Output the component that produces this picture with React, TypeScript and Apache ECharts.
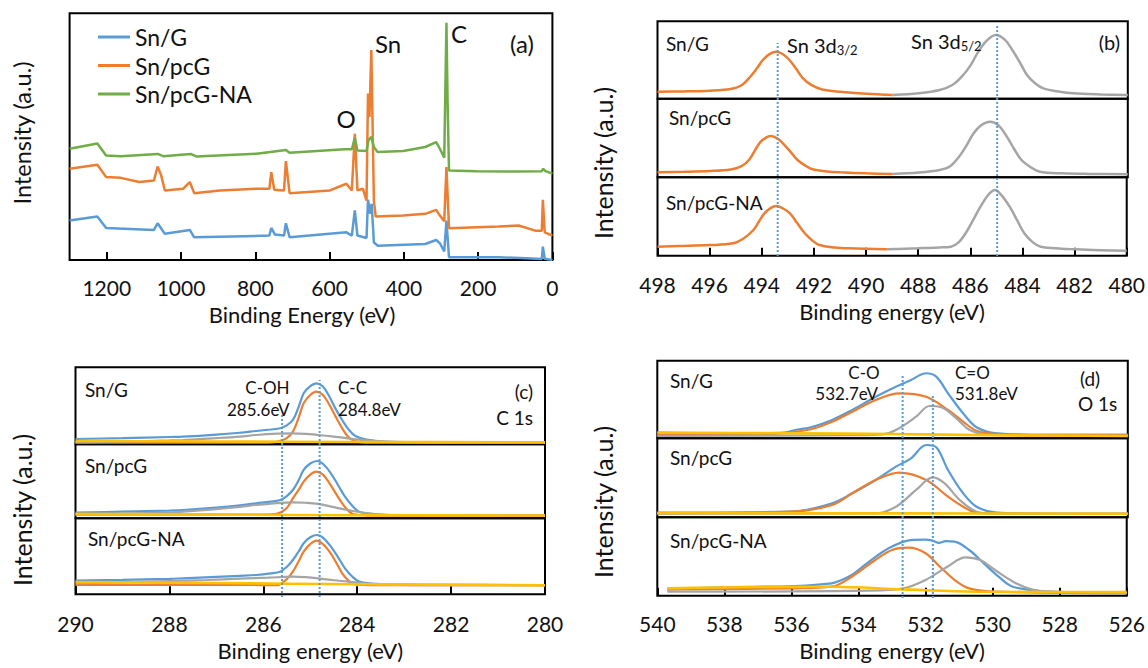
import React, { useEffect, useRef } from 'react';
import * as echarts from 'echarts';

// ---------------- DATA ----------------
const sampleNames = ['Sn/G', 'Sn/pcG', 'Sn/pcG-NA'];

// axis ranges [min, max] (all axes are reversed: high binding energy on the left)
const surveyRange = [0, 1300];
const sn3dRange = [480, 498];
const c1sRange = [280, 290];
const o1sRange = [526, 540];
const surveyStep = 200;
const hiResStep = 2;

// (a) survey spectra [binding energy, intensity]
const surveySnG = [
  [1300, 16], [1225.3, 17.6], [1201.6, 13], [1073, 12.2], [1063, 14.9], [1043.5, 10.6], [976.4, 12.2],
  [964.5, 9.2], [762, 9.9], [757, 13], [747, 10.3], [722.6, 9.9], [717.6, 14.9], [707.7, 9.2], [554.7, 11.2],
  [540, 9.9], [532, 20.1], [525, 9.9], [500.5, 8.9], [496.5, 24.4], [490.6, 18.7], [486.6, 22.8], [480.7, 7.2],
  [470.8, 5.8], [342.5, 6.5], [312.9, 8.1], [303, 6.8], [291.2, 3.5], [285.3, 16], [278.4, 1.1], [145.1, 1.1],
  [85.9, 0.8], [28.6, 0.4], [25.7, 5.4], [20.7, 0.5], [0, 0],
];
const surveySnPcG = [
  [1300, 37], [1225.3, 38.6], [1201.6, 33.6], [1162, 33.3], [1112.6, 31.6], [1073, 32.2], [1063, 37.9],
  [1053.4, 34.3], [1043.5, 28.2], [994.1, 28.9], [976.4, 31.6], [964.5, 27.1], [895.4, 28.2], [796.5, 28.9],
  [762, 28.9], [757, 35.6], [749, 28.5], [722.6, 28.2], [717.6, 40.1], [707.7, 27.1], [599.1, 28.2],
  [554.7, 30.9], [540, 28.2], [532, 51.2], [525, 28.2], [510.3, 28.9], [500.5, 24.1], [496.5, 67.5],
  [492.6, 58], [487.6, 85.1], [480.7, 24.1], [475.8, 17.6], [401.7, 18], [342.5, 18.7], [312.9, 20.3],
  [303, 18], [291.2, 15.7], [285.3, 37.7], [278.4, 12.9], [145.1, 13.6], [90.8, 14], [46.4, 11.9],
  [28.6, 11.9], [25.7, 24.4], [20.7, 11.2], [0, 9.9],
];
const surveySnPcGNA = [
  [1300, 45.1], [1225.3, 47.2], [1201.6, 42.4], [1162, 42.1], [1063, 43], [1048, 42.1], [974, 43],
  [959, 42], [796.5, 43.1], [717.6, 44.6], [707.7, 43.5], [559.7, 44.9], [540, 44.9], [532, 49.5],
  [525, 44.4], [500.5, 44.2], [495.5, 48.5], [487.6, 49.9], [480.7, 45.8], [470.8, 43.8], [401.7, 44.2],
  [342.5, 45.8], [312.9, 47.8], [303, 45.1], [291.2, 41.5], [287.2, 78.3], [285.3, 96.2], [282.3, 64.8],
  [278.4, 36.3], [204.3, 36], [105.6, 35.9], [28.6, 36], [24.7, 37], [18.8, 36], [0, 35],
];

// (b) Sn 3d fits, one panel per sample: 3d3/2 (orange) and 3d5/2 (grey)
const snG_3d32 = [
  [498, 9], [497, 9.4], [496, 10.4], [495.2, 12.5], [494.8, 17], [494.46, 28], [494.2, 39], [493.97, 50],
  [493.7, 58], [493.45, 60.7], [493.2, 57.5], [492.95, 50], [492.7, 39], [492.45, 27], [492.1, 17.5],
  [491.7, 12], [491, 9], [490, 6.5], [489, 4.8],
];
const snG_3d52 = [
  [489, 4.8], [488, 7], [487.2, 11.2], [486.7, 18], [486.3, 30.6], [486, 44], [485.76, 58.6], [485.4, 75],
  [485.05, 82.3], [484.7, 76], [484.42, 62.9], [484.1, 45], [483.86, 30.6], [483.55, 20], [483.23, 13.4],
  [482.6, 9], [482.1, 6.9], [481, 5.5], [480, 4.8],
];
const pcG_3d32 = [
  [498, 6.4], [497, 7], [496, 8], [495.2, 10], [494.8, 14], [494.5, 22], [494.1, 43.3], [493.85, 50.5],
  [493.65, 52.5], [493.4, 49], [493.2, 43.3], [492.9, 32], [492.64, 22], [492.3, 14], [492.07, 10.2],
  [491.5, 7.5], [491, 6.4], [490, 5], [489, 4.2],
];
const pcG_3d52 = [
  [489, 4.2], [488, 6], [487.2, 9.3], [486.8, 14], [486.46, 26.2], [486.2, 39], [485.9, 56], [485.6, 66.5],
  [485.27, 70.7], [484.95, 66], [484.63, 51.7], [484.35, 36], [484.07, 22], [483.7, 12.5], [483.37, 7.1],
  [482.5, 5], [481.5, 4.3], [480, 4],
];
const na_3d32 = [
  [498, 11.5], [497.2, 12.3], [496, 13.5], [495.1, 15.8], [494.7, 22], [494.32, 32.8], [494.1, 44],
  [493.9, 54], [493.65, 61], [493.44, 63.4], [493.2, 60.5], [492.92, 54], [492.65, 42], [492.35, 28.6],
  [492.05, 19], [491.79, 13.6], [491.2, 10.5], [490.67, 9.4], [489.2, 8.2],
];
const na_3d52 = [
  [489.2, 8.2], [488, 9.5], [487.2, 10.5], [486.74, 11.5], [486.45, 17], [486.18, 28.6], [485.9, 45],
  [485.61, 62.5], [485.3, 78], [485.05, 83.8], [484.8, 77], [484.49, 62.5], [484.2, 45], [483.93, 28.6],
  [483.6, 17], [483.3, 11.5], [482.5, 9], [481.96, 8.2], [481, 7], [480, 6.4],
];

// (c) C 1s: measured (blue), C-C (orange), C-OH (grey), background (yellow)
const c_snG_meas = [
  [290, 6.9], [289, 8], [288, 9.5], [287.71, 9.9], [287, 12.5], [286.5, 15], [286.15, 17.3], [285.85, 19.2],
  [285.64, 20.8], [285.5, 24.5], [285.37, 31.6], [285.25, 48], [285.14, 66.2], [285, 75.5], [284.87, 79.2],
  [284.73, 75], [284.59, 61.8], [284.45, 45], [284.32, 31.6], [284.18, 19], [284.04, 10.8], [283.8, 6],
  [283.42, 3.4], [282.5, 2.8], [280, 2.6],
];
const c_snG_CC = [
  [290, 2.2], [286, 2.2], [285.7, 3.4], [285.5, 8], [285.37, 16.4], [285.25, 34], [285.14, 53.2], [285, 64],
  [284.87, 68.3], [284.73, 64], [284.59, 51], [284.45, 35], [284.32, 20.8], [284.2, 10], [284.08, 4.8],
  [283.9, 2.6], [283.5, 2.2], [280, 2.2],
];
const c_snG_COH = [
  [290, 2.4], [289, 3.5], [288, 5], [287.71, 5.6], [287, 8], [286.5, 10], [286.15, 12.1], [285.7, 13.8],
  [285.37, 14.3], [285.1, 13.6], [284.83, 12.1], [284.5, 10], [284.2, 7.8], [283.8, 5], [283.42, 3.4],
  [282.8, 2.4], [282, 2.2], [280, 2.2],
];
const c_snG_bg = [[290, 4.3], [287, 3.6], [284, 3], [280, 2.6]];

const c_pcG_meas = [
  [290, 7.6], [289, 9], [288, 10.5], [287.71, 11.2], [287, 14.5], [286.5, 17.5], [286.15, 20.3], [285.85, 22.5],
  [285.64, 24.7], [285.5, 30], [285.37, 38.2], [285.25, 51], [285.14, 65.3], [285, 74], [284.85, 77.4],
  [284.72, 73], [284.56, 60.8], [284.4, 44], [284.26, 29.2], [284.1, 16.5], [283.96, 8.9], [283.7, 6],
  [283.42, 4.5], [282.5, 3.8], [280, 3.6],
];
const c_pcG_CC = [
  [290, 5], [286, 5], [285.7, 6.3], [285.5, 14], [285.37, 27], [285.25, 38], [285.14, 49.5], [285, 59],
  [284.87, 63], [284.73, 59], [284.59, 47.3], [284.45, 33], [284.32, 20.3], [284.2, 11], [284.08, 5.4],
  [283.8, 4], [283.42, 3.6], [280, 3.6],
];
const c_pcG_COH = [
  [290, 5.4], [289, 6.5], [288, 8], [287.71, 8.9], [287, 12.5], [286.5, 15.5], [286.15, 18], [285.7, 20.6],
  [285.37, 21.6], [285.1, 21], [284.83, 19.4], [284.5, 15], [284.2, 11.2], [283.8, 7], [283.42, 4.5],
  [282.8, 3.8], [280, 3.6],
];
const c_pcG_bg = [[290, 6], [287, 5], [284, 4.2], [280, 3.8]];

const c_na_meas = [
  [290, 17.9], [289, 19], [288, 20.3], [287.71, 21], [287, 22.8], [286.5, 24.2], [286.15, 25.4], [285.85, 27.5],
  [285.64, 29.8], [285.5, 36], [285.37, 45.1], [285.25, 56], [285.14, 67.1], [285, 75], [284.85, 78],
  [284.72, 74], [284.56, 62.7], [284.4, 48], [284.26, 34.2], [284.1, 23], [283.96, 16.7], [283.7, 14],
  [283.42, 13.2], [282.5, 12.5], [280, 12.2],
];
const c_na_CC = [
  [290, 12.5], [286, 12.2], [285.7, 12.2], [285.5, 20], [285.37, 29.8], [285.25, 43], [285.14, 56.1], [285, 66],
  [284.87, 70.6], [284.73, 66], [284.59, 56.1], [284.45, 42], [284.32, 27.6], [284.2, 19], [284.08, 13.6],
  [283.8, 12.2], [283.42, 12], [280, 12],
];
const c_na_COH = [
  [290, 14.5], [289, 15.8], [288, 17.5], [287.2, 18.8], [286.5, 20.5], [285.9, 21.9], [285.37, 23.2],
  [285.1, 22.5], [284.83, 21], [284.5, 18.5], [284.2, 16.7], [283.8, 14], [283.42, 12.8], [282.8, 12.2], [280, 12],
];
const c_na_bg = [[290, 16.2], [287, 14.8], [284, 13.2], [280, 12]];

// (d) O 1s: measured (blue), C-O (orange), C=O (grey), background (yellow)
const o_snG_meas = [
  [540, 7.5], [538, 6.5], [536.2, 7.5], [535.9, 10.7], [535.4, 14.6], [534.8, 23.6], [534.2, 36.5], [533.5, 53.6],
  [532.9, 66.5], [532.45, 75.1], [532, 83.8], [531.7, 79.4], [531.35, 58], [530.9, 32.2], [530.5, 14.2],
  [529.9, 6.4], [528.3, 4.3], [526, 4.3],
];
const o_snG_CO = [
  [540, 4.3], [537, 4.3], [536, 8], [535.4, 12], [534.8, 21.4], [534.2, 34.3], [533.5, 49.4], [532.8, 58],
  [532, 53.6], [531.35, 36.5], [530.9, 21.4], [530.5, 9.8], [529.9, 5.5], [528.3, 4.3], [526, 4.3],
];
const o_snG_CdO = [
  [540, 3], [534, 4], [533.3, 5], [532.9, 10.7], [532.3, 27.8], [531.9, 41.6], [531.55, 39.9], [531.1, 25.8],
  [530.7, 10.7], [530.1, 4.3], [526, 3],
];
const o_snG_bg = [[540, 7.5], [536, 6.5], [533, 5.5], [530, 4], [526, 3]];

const o_pcG_meas = [
  [540, 5.8], [536, 7.1], [534.8, 17.7], [534.2, 30.4], [533.5, 47.2], [532.9, 64.1], [532.45, 74.7],
  [532, 91.5], [531.7, 88.6], [531.35, 59.9], [530.9, 30.4], [530.5, 13.4], [529.9, 5.8], [528.3, 4.5], [526, 4.5],
];
const o_pcG_CO = [
  [540, 5], [536, 7.1], [534.8, 15.6], [534.2, 30.4], [533.5, 47.2], [532.8, 56.5], [532, 47.2],
  [531.35, 26.1], [530.9, 13.4], [530.5, 5.8], [529.4, 4.5], [526, 4.5],
];
const o_pcG_CdO = [
  [540, 4.5], [533.5, 5], [532.9, 13.4], [532.3, 34.6], [531.8, 50.6], [531.45, 43], [531, 21.9],
  [530.5, 7.1], [529.9, 4.5], [526, 4.5],
];
const o_pcG_bg = [[540, 5.5], [533, 5], [526, 4.5]];

const o_na_meas = [
  [539.7, 8.1], [538.1, 10.7], [535.9, 12.4], [534.8, 15.8], [534.5, 20], [534.2, 26.4], [533.75, 41.3],
  [533.1, 60.5], [532.45, 71], [532, 71.5], [531.79, 70.2], [531.6, 67.5], [531.4, 69.5], [531.13, 68.9],
  [530.7, 58.3], [530.26, 41.3], [529.82, 24.2], [529.4, 11.5], [528.3, 5.1], [526, 3.1],
];
const o_na_CO = [
  [539.7, 8.1], [535.9, 9.4], [534.8, 11.5], [534.2, 24.2], [533.5, 45.5], [533, 58.3], [532.5, 61.2],
  [532, 54.1], [531.57, 37], [531.13, 20], [530.7, 9.4], [529.9, 5.1], [526, 3.1],
];
const o_na_CdO = [
  [539.7, 5.1], [533.75, 6.4], [532.66, 9.4], [532, 20], [531.35, 37], [530.81, 49], [530.37, 45.5],
  [529.93, 32.8], [529.39, 17.9], [528.84, 8.1], [528.3, 5.1], [526, 3.1],
];
const o_na_bg = [[539.7, 9.4], [534.8, 11.5], [532.66, 8.1], [530.5, 5.1], [526, 4.5]];

// reference peak positions (dotted lines)
const sn3dPeaks = [493.4, 485.0];
const c1sPeaks = [285.6, 284.8];
const o1sPeaks = [532.7, 531.8];

// ---------------- STYLE ----------------
const FONT = 'Lato';
const INK = '#111111';
const BLUE = '#5B9BD5';
const ORANGE = '#ED7D31';
const GREY = '#A5A5A5';
const YELLOW = '#FFC000';
const GREEN = '#70AD47';
const TICK_FS = 21;
const NAME_FS = 22;

type Rect = { left: number; top: number; width: number; height: number };

function buildOption() {
  const grid: any[] = [];
  const xAxis: any[] = [];
  const yAxis: any[] = [];
  const series: any[] = [];

  const addGrid = (
    r: Rect,
    range: number[],
    step: number,
    border: boolean,
    bottom: null | { name: string; nameGap: number; margin: number; showMax: boolean; namePad?: number[] }
  ) => {
    const i = grid.length;
    grid.push({ ...r, show: border, borderColor: '#000', borderWidth: 2, backgroundColor: 'transparent' });
    xAxis.push({
      gridIndex: i,
      type: 'value',
      min: range[0],
      max: range[1],
      interval: step,
      inverse: true,
      show: !!bottom,
      axisLine: { show: false },
      axisTick: { show: true, inside: true, length: 8, lineStyle: { color: '#000', width: 2 } },
      axisLabel: {
        show: true,
        margin: bottom ? bottom.margin : 8,
        fontSize: TICK_FS,
        fontFamily: FONT,
        color: INK,
        showMaxLabel: bottom ? bottom.showMax : true,
        formatter: (v: number) => String(v),
      },
      splitLine: { show: false },
      name: bottom ? bottom.name : '',
      nameLocation: 'middle',
      nameGap: bottom ? bottom.nameGap : 0,
      nameTextStyle: { fontSize: NAME_FS, fontFamily: FONT, color: INK, padding: bottom && bottom.namePad ? bottom.namePad : 0 },
    });
    yAxis.push({ gridIndex: i, type: 'value', min: 0, max: 100, show: false });
    return i;
  };

  const addLine = (gi: number, data: number[][], color: string, width: number, smooth: number, name?: string, dotted = false) => {
    series.push({
      type: 'line',
      name: name || `s${series.length}`,
      xAxisIndex: gi,
      yAxisIndex: gi,
      data,
      symbol: 'none',
      showSymbol: false,
      smooth,
      silent: true,
      clip: !dotted,
      z: dotted ? 10 : 2,
      lineStyle: { color, width, type: dotted ? 'dotted' : 'solid' },
      itemStyle: { color },
    });
  };

  // ----- (a) survey -----
  const ga = addGrid({ left: 69.6, top: 13.3, width: 482.8, height: 246.7 }, surveyRange, surveyStep, true, {
    name: 'Binding Energy (eV)', nameGap: 43, margin: 16.5, showMax: false, namePad: [0, 18, 0, 0],
  });
  addLine(ga, surveySnG, BLUE, 2.5, 0, sampleNames[0]);
  addLine(ga, surveySnPcG, ORANGE, 2.5, 0, sampleNames[1]);
  addLine(ga, surveySnPcGNA, GREEN, 2.5, 0, sampleNames[2]);

  // ----- (b) Sn 3d -----
  const bL = 657.5, bW = 470.3;
  const bTops = [21.3, 98.7, 177.3], bH = [77.4, 78.6, 78.4];
  const bFits = [[snG_3d32, snG_3d52], [pcG_3d32, pcG_3d52], [na_3d32, na_3d52]];
  bFits.forEach((f, k) => {
    const gi = addGrid({ left: bL, top: bTops[k], width: bW, height: bH[k] }, sn3dRange, hiResStep, true,
      k === 2 ? { name: 'Binding energy (eV)', nameGap: 45, margin: 18.5, showMax: true } : null);
    addLine(gi, f[0], ORANGE, 2.5, 0.35);
    addLine(gi, f[1], GREY, 2.5, 0.35);
  });
  const bo = addGrid({ left: bL, top: 21.3, width: bW, height: 234.7 }, sn3dRange, hiResStep, false, null);
  const bTopsDot = [90.8, 98.4];
  sn3dPeaks.forEach((p, k) => addLine(bo, [[p, 0], [p, bTopsDot[k]]], BLUE, 2, 0, undefined, true));

  // ----- (c) C 1s -----
  const cL = 75.5, cW = 469.5;
  const cTops = [367.3, 444.3, 518.3], cH = [77, 74, 76];
  const cFits = [
    [c_snG_meas, c_snG_CC, c_snG_COH, c_snG_bg],
    [c_pcG_meas, c_pcG_CC, c_pcG_COH, c_pcG_bg],
    [c_na_meas, c_na_CC, c_na_COH, c_na_bg],
  ];
  cFits.forEach((f, k) => {
    const gi = addGrid({ left: cL, top: cTops[k], width: cW, height: cH[k] }, c1sRange, hiResStep, true,
      k === 2 ? { name: 'Binding energy (eV)', nameGap: 45.5, margin: 19, showMax: true } : null);
    addLine(gi, f[0], BLUE, 2.2, 0.35);
    addLine(gi, f[1], ORANGE, 2.2, 0.35);
    addLine(gi, f[2], GREY, 2.2, 0.35);
    addLine(gi, f[3], YELLOW, 2.6, 0.35);
  });
  const co = addGrid({ left: cL, top: 367.3, width: cW, height: 229.7 }, c1sRange, hiResStep, false, null);
  const cTopsDot = [79.2, 94.5];
  c1sPeaks.forEach((p, k) => addLine(co, [[p, 0], [p, cTopsDot[k]]], BLUE, 2, 0, undefined, true));

  // ----- (d) O 1s -----
  const dL = 657.3, dW = 470.5;
  const dTops = [360.7, 438.3, 517.3], dH = [77.6, 79, 78.4];
  const dFits = [
    [o_snG_meas, o_snG_CO, o_snG_CdO, o_snG_bg],
    [o_pcG_meas, o_pcG_CO, o_pcG_CdO, o_pcG_bg],
    [o_na_meas, o_na_CO, o_na_CdO, o_na_bg],
  ];
  dFits.forEach((f, k) => {
    const gi = addGrid({ left: dL, top: dTops[k], width: dW, height: dH[k] }, o1sRange, hiResStep, true,
      k === 2 ? { name: 'Binding energy (eV)', nameGap: 44, margin: 17.5, showMax: true } : null);
    addLine(gi, f[0], BLUE, 2.2, 0.35);
    addLine(gi, f[1], ORANGE, 2.2, 0.35);
    addLine(gi, f[2], GREY, 2.2, 0.35);
    addLine(gi, f[3], YELLOW, 2.6, 0.35);
  });
  const dO = addGrid({ left: dL, top: 360.7, width: dW, height: 237.3 }, o1sRange, hiResStep, false, null);
  const dTopsDot = [94, 85.5];
  o1sPeaks.forEach((p, k) => addLine(dO, [[p, 0], [p, dTopsDot[k]]], BLUE, 2, 0, undefined, true));

  // ----- text annotations -----
  const T = (text: string, x: number, y: number, size: number, align = 'left', rich?: any) => ({
    type: 'text',
    x,
    y,
    silent: true,
    z: 100,
    style: { text, fontSize: size, fontFamily: FONT, fill: INK, align, verticalAlign: 'middle', rich },
  });
  const yTitle = (x: number, y: number, size: number) => ({
    type: 'text',
    x,
    y,
    rotation: Math.PI / 2,
    silent: true,
    z: 100,
    style: { text: 'Intensity (a.u.)', fontSize: size, fontFamily: FONT, fill: INK, align: 'center', verticalAlign: 'middle' },
  });
  const subRich = {
    s: { fontSize: 13, fontFamily: FONT, fill: INK, verticalAlign: 'bottom', padding: [10, 0, 0, 0] },
  };

  const graphic = [
    // (a)
    T('O', 346, 118, 24, 'center'),
    T('Sn', 388, 43, 24, 'center'),
    T('C', 459, 33, 24, 'center'),
    T('(a)', 522, 43, 24, 'center'),
    yTitle(22, 133, 23.5),
    // (b)
    T(sampleNames[0], 666, 43, 19),
    T(sampleNames[1], 669, 117, 19),
    T(sampleNames[2], 666, 202, 19),
    T('Sn 3d{s|3/2}', 787, 45, 20, 'left', subRich),
    T('Sn 3d{s|5/2}', 911, 41, 20, 'left', subRich),
    T('(b)', 1120, 42, 20, 'right'),
    yTitle(603, 163, 25),
    // (c)
    T(sampleNames[0], 85, 389, 19),
    T(sampleNames[1], 85, 465, 19),
    T(sampleNames[2], 88, 538, 19),
    T('C-OH', 289.6, 387, 17, 'right'),
    T('285.6eV', 289.6, 409, 17, 'right'),
    T('C-C', 338, 387, 17),
    T('284.8eV', 338, 409, 17),
    T('(c)', 533, 391, 19, 'right'),
    T('C 1s', 533, 417, 19, 'right'),
    yTitle(22, 510, 25),
    // (d)
    T(sampleNames[0], 670, 380, 19),
    T(sampleNames[1], 670, 457, 19),
    T(sampleNames[2], 670, 540, 19),
    T('C-O', 864, 372, 17, 'center'),
    T('532.7eV', 878, 393, 17, 'right'),
    T('C=O', 955, 372, 17),
    T('531.8eV', 955, 393, 17),
    T('(d)', 1090, 378, 19, 'center'),
    T('O 1s', 1078, 403, 19),
    yTitle(603, 502, 25),
  ];

  return {
    animation: false,
    backgroundColor: '#ffffff',
    grid,
    xAxis,
    yAxis,
    series,
    graphic,
    legend: {
      data: sampleNames,
      orient: 'vertical',
      left: 98,
      top: 25,
      padding: 0,
      itemWidth: 32,
      itemHeight: 3,
      itemGap: 4.5,
      icon: 'rect',
      selectedMode: false,
      textStyle: { fontSize: 23, fontFamily: FONT, color: INK, lineHeight: 24 },
    },
  };
}

export default function App() {
  const ref = useRef<HTMLDivElement>(null);
  useEffect(() => {
    document.body.style.margin = '0';
    if (!ref.current) return;
    const chart = echarts.init(ref.current, undefined, { renderer: 'svg' });
    chart.setOption(buildOption() as any);
    return () => chart.dispose();
  }, []);
  return <div ref={ref} style={{ width: 1148, height: 668 }} />;
}
